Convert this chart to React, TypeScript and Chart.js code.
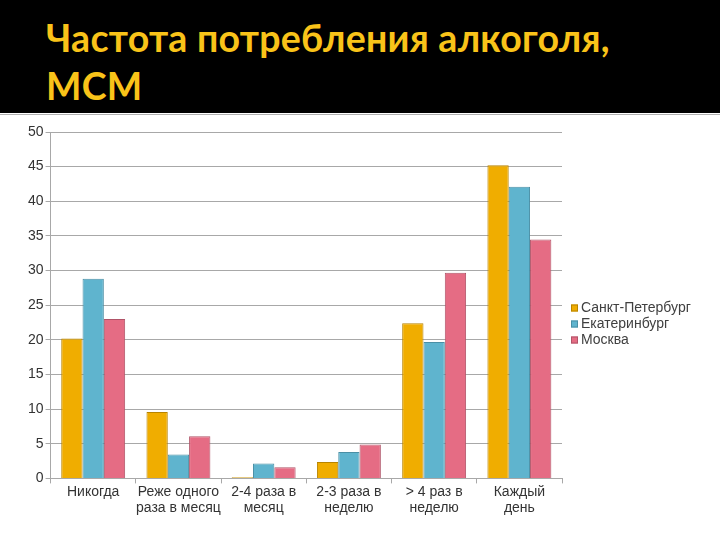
import React, { useEffect, useRef } from "react";
import { Chart, registerables } from "chart.js";

Chart.register(...registerables);

const categories: (string | string[])[] = [
  "Никогда",
  ["Реже одного", "раза в месяц"],
  ["2-4 раза в", "месяц"],
  ["2-3 раза в", "неделю"],
  ["> 4 раз в", "неделю"],
  ["Каждый", "день"],
];
const spb = [20.2, 9.6, 0.15, 2.35, 22.4, 45.2];
const ekb = [28.8, 3.45, 2.15, 3.8, 19.7, 42.1];
const msk = [23.0, 6.1, 1.6, 4.9, 29.7, 34.5];
const seriesNames = ["Санкт-Петербург", "Екатеринбург", "Москва"];
const titleLines = ["Частота потребления алкоголя,", "МСМ"];

const FONT = "Liberation Sans";

const sideLegend = {
  id: "sideLegend",
  afterDraw(chart: any) {
    const ctx = chart.ctx;
    const area = chart.chartArea;
    const ds = chart.data.datasets;
    const lineH = 16;
    const x = area.right + 9;
    const yCenter = 324;
    const y0 = yCenter - ((ds.length - 1) * lineH) / 2;
    ctx.save();
    ctx.font = `14px "${FONT}"`;
    ctx.textBaseline = "middle";
    ctx.textAlign = "left";
    ds.forEach((d: any, i: number) => {
      const y = y0 + i * lineH - 115;
      ctx.fillStyle = d.backgroundColor;
      ctx.fillRect(x, y - 3.5, 7, 7);
      ctx.strokeStyle = d.borderColor;
      ctx.lineWidth = 1;
      ctx.strokeRect(x + 0.5, y - 3, 6, 6);
      ctx.fillStyle = "#404040";
      ctx.fillText(d.label, x + 10, y + 0.5);
    });
    ctx.restore();
  },
};

export default function App() {
  const ref = useRef<HTMLCanvasElement>(null);
  useEffect(() => {
    document.body.style.margin = "0";
    const chart = new Chart(ref.current!, {
      type: "bar",
      data: {
        labels: categories,
        datasets: [
          { label: seriesNames[0], data: spb, backgroundColor: "#F0AD00", borderColor: "#B88400", borderWidth: 1 },
          { label: seriesNames[1], data: ekb, backgroundColor: "#5FB4CE", borderColor: "#4A8FA5", borderWidth: 1 },
          { label: seriesNames[2], data: msk, backgroundColor: "#E56C84", borderColor: "#B05468", borderWidth: 1 },
        ],
      },
      plugins: [sideLegend],
      options: {
        animation: false,
        responsive: false,
        maintainAspectRatio: false,
        layout: { padding: { top: 17, right: 158, bottom: 23, left: 26 } },
        datasets: { bar: { barPercentage: 1, categoryPercentage: 0.75 } },
        plugins: {
          title: { display: false },
          tooltip: { enabled: false },
          legend: { display: false },
        },
        scales: {
          x: {
            grid: { display: true, drawOnChartArea: false, drawTicks: true, tickLength: 5, color: "#A8A8A8", offset: true },
            border: { color: "#A8A8A8" },
            ticks: { color: "#333", font: { family: FONT, size: 14 }, maxRotation: 0, autoSkip: false, padding: 0 },
          },
          y: {
            min: 0,
            max: 50,
            ticks: { stepSize: 5, color: "#333", font: { family: FONT, size: 14 }, padding: 2 },
            grid: { color: "#A8A8A8", tickLength: 5 },
            border: { color: "#A8A8A8" },
          },
        },
      },
    });
    return () => chart.destroy();
  }, []);
  return (
    <div style={{ position: "absolute", left: 0, top: 0, width: 720, height: 540, background: "#fff", overflow: "hidden" }}>
      <div style={{ position: "absolute", left: 0, top: 0, width: 720, height: 113, background: "#000" }}>
        <div style={{ position: "absolute", left: 46, top: 14, color: "#F9C319", fontFamily: "Lato", fontWeight: 700, fontSize: 37.5, lineHeight: "47.5px", letterSpacing: 0.25, whiteSpace: "nowrap" }}>
          {titleLines.map((t, i) => (<div key={i}>{t}</div>))}
        </div>
      </div>
      <div style={{ position: "absolute", left: 0, top: 114, width: 720, height: 1, background: "#B0B0B0" }} />
      <canvas ref={ref} width={720} height={425} style={{ position: "absolute", left: 0, top: 115, width: 720, height: 425 }} />
    </div>
  );
}
